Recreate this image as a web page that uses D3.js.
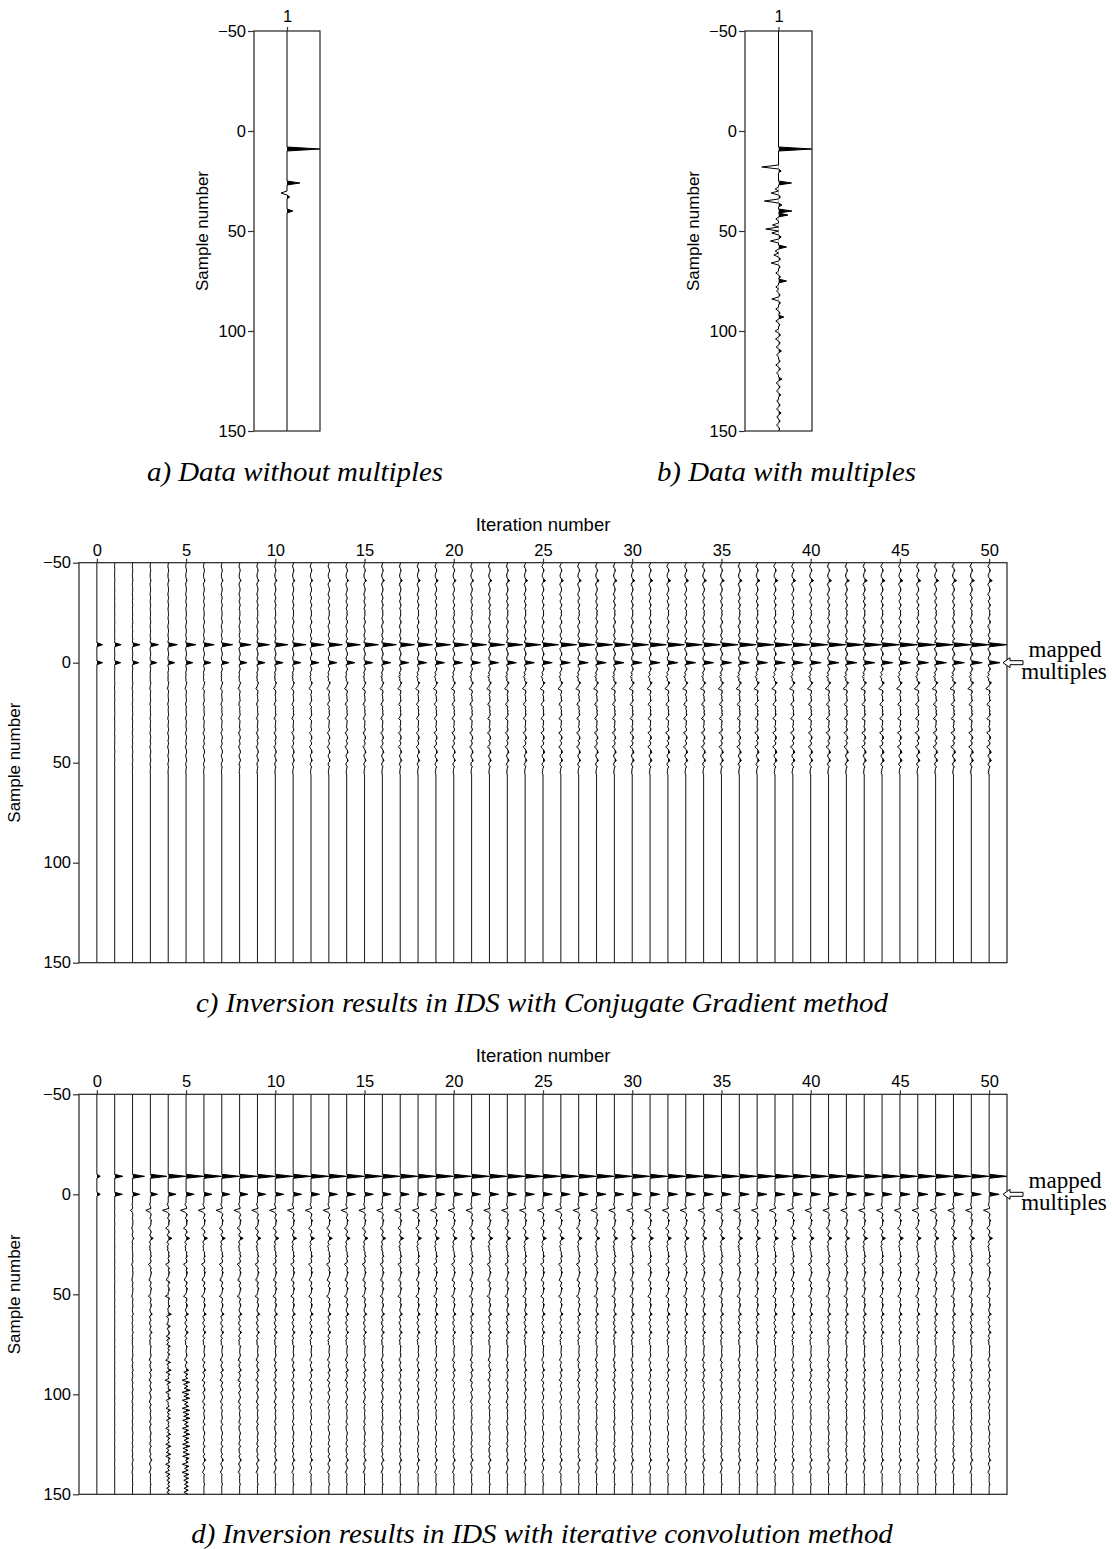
<!DOCTYPE html>
<html>
<head>
<meta charset="utf-8">
<script src="https://cdn.jsdelivr.net/npm/d3@7/dist/d3.min.js"></script>
<style>
  body { margin: 0; background: #fff; }
  svg { display: block; }
  .tick text { font-family: "Liberation Sans", Arial, sans-serif; font-size: 16.5px; fill: #000; }
  .tick line { stroke: #333; stroke-width: 1.2; }
  .lab { font-family: "Liberation Sans", Arial, sans-serif; font-size: 17px; fill: #000; }
  .lab.top { font-size: 18.5px; }
  .cap { font-family: "Liberation Serif", "Times New Roman", serif; font-style: italic; font-size: 27px; fill: #000; }
  .note { font-family: "Liberation Serif", "Times New Roman", serif; font-size: 23px; fill: #000; }
</style>
</head>
<body>
<svg id="fig" width="1112" height="1549"></svg>
<script>
// ---------------------------------------------------------------
// Axes
// ---------------------------------------------------------------
const sampleAxis = d3.range(-50, 151);          // time samples -50 .. 150
const depthTicks = [-50, 0, 50, 100, 150];
const iterations = d3.range(0, 51);              // CG / convolution iterations 0 .. 50
const iterationTicks = [0, 5, 10, 15, 20, 25, 30, 35, 40, 45, 50];

// ---------------------------------------------------------------
// a) primaries only: reflection spikes (sample, amplitude)
// ---------------------------------------------------------------
const cleanTimes = [9, 26, 31, 33, 40];
const cleanAmps  = [1.00, 0.39, -0.18, 0.08, 0.18];

// ---------------------------------------------------------------
// b) primaries plus multiples
// ---------------------------------------------------------------
const multTimes = [9, 18, 20, 26, 29, 31, 33, 35, 37, 40, 42, 44, 47, 49, 51, 53, 55, 58, 60, 62,
                   64, 66, 68, 71, 73, 75, 78, 80, 82, 84, 86, 89, 91, 93, 95, 97, 100, 102, 104, 106,
                   108, 110, 112, 115, 117, 119, 121, 124, 126, 128, 130, 132, 135, 137, 139, 141, 143, 145, 147, 149];
const multAmps  = [1.00, -0.50, 0.08, 0.39, -0.10, -0.22, 0.06, -0.42, 0.10, 0.40, 0.28, -0.08, -0.18, -0.38, -0.20, 0.08, -0.24, 0.24, -0.10, -0.14,
                   0.06, -0.22, 0.05, -0.08, 0.06, 0.24, -0.08, -0.06, 0.05, -0.20, 0.06, -0.08, 0.05, 0.16, -0.08, 0.04, -0.10, 0.06, -0.09, 0.05,
                   -0.07, 0.09, -0.06, 0.05, -0.08, 0.06, -0.06, 0.10, -0.07, 0.05, -0.06, 0.07, -0.05, 0.05, -0.06, 0.08, -0.05, 0.05, -0.06, 0.04];

// ---------------------------------------------------------------
// c/d) inversion in the IDS domain: primary at -9, mapped multiple at 0
// ---------------------------------------------------------------
const idsPrimaryTime = -9;
const idsMultipleTime = 0;

// small background wiggle shared by the inverted traces (hundredths, one per sample)
const fineNoise = [
   2,-1,-3, 1, 3, 0,-2,-2, 1, 3, -1,-3, 0, 2, 2,-1,-3, 1, 2,-2,
  -1, 3, 1,-2,-3, 1, 2, 0,-2, 2,  3,-1,-3, 0, 2, 1,-2,-1, 3,-1,
  -2, 1, 2,-3,-1, 2, 3,-1,-2, 0,  2,-2,-1, 3, 1,-3, 0, 2,-1,-2,
   3, 1,-2,-3, 2, 2,-1,-2, 1, 3, -2,-1, 2, 0,-3, 1, 3,-1,-2, 2,
   1,-3,-1, 2, 2,-2,-1, 3, 0,-2,  2, 1,-3,-1, 3, 1,-2,-2, 2, 1,
  -1,-3, 2, 2,-1,-2, 3, 0,-2, 1,  2,-3,-1, 2, 1,-2, 3,-1,-2, 2,
   0,-3, 2, 1,-1,-2, 3, 1,-3, 0,  2, 2,-2,-1, 3,-1,-2, 1, 2,-3,
   1, 2,-1,-2, 3, 0,-2, 2, 1,-3, -1, 2, 2,-2,-1, 3,-1,-2, 2, 0,
  -3, 1, 2,-1,-2, 3, 1,-2,-1, 2,  2,-3, 0, 2,-1,-2, 3, 1,-2,-1,
   2,-2, 1, 3,-1,-3, 1, 2,-1,-2,  1
];

// c) conjugate gradient
const cgPrimaryAmp  = [0.32, 0.36, 0.41, 0.45, 0.50, 0.54, 0.57, 0.60, 0.63, 0.66, 0.69, 0.71, 0.72, 0.74, 0.75, 0.76, 0.77,
                       0.78, 0.79, 0.80, 0.81, 0.82, 0.83, 0.84, 0.85, 0.85, 0.86, 0.87, 0.87, 0.88, 0.89, 0.89, 0.90, 0.90,
                       0.91, 0.91, 0.92, 0.92, 0.93, 0.93, 0.93, 0.94, 0.94, 0.95, 0.95, 0.96, 0.96, 0.97, 0.97, 0.98, 0.98];
const cgMultipleAmp = [0.32, 0.33, 0.34, 0.35, 0.35, 0.36, 0.37, 0.38, 0.39, 0.40, 0.41, 0.41, 0.42, 0.42, 0.43, 0.43, 0.44,
                       0.44, 0.45, 0.45, 0.46, 0.46, 0.47, 0.47, 0.48, 0.48, 0.49, 0.49, 0.50, 0.50, 0.50, 0.51, 0.51, 0.51,
                       0.52, 0.52, 0.52, 0.53, 0.53, 0.53, 0.54, 0.54, 0.54, 0.55, 0.55, 0.55, 0.55, 0.56, 0.56, 0.56, 0.56];
const cgResidualScale = [0.00, 0.05, 0.10, 0.15, 0.20, 0.25, 0.30, 0.35, 0.40, 0.44, 0.48, 0.52, 0.55, 0.58, 0.61, 0.64, 0.67,
                         0.69, 0.71, 0.73, 0.75, 0.77, 0.79, 0.80, 0.82, 0.83, 0.84, 0.85, 0.86, 0.87, 0.88, 0.89, 0.90, 0.91,
                         0.92, 0.93, 0.93, 0.94, 0.94, 0.95, 0.95, 0.96, 0.96, 0.97, 0.97, 0.98, 0.98, 0.99, 0.99, 1.00, 1.00];
const cgNoiseScale = [0.0, 0.2, 0.4, 0.6, 0.8, 0.9, 1.0, 1.1, 1.2, 1.3, 1.4, 1.4, 1.5, 1.5, 1.6, 1.6, 1.7,
                      1.7, 1.7, 1.8, 1.8, 1.8, 1.9, 1.9, 1.9, 2.0, 2.0, 2.0, 2.0, 2.1, 2.1, 2.1, 2.1, 2.2,
                      2.2, 2.2, 2.2, 2.2, 2.3, 2.3, 2.3, 2.3, 2.3, 2.4, 2.4, 2.4, 2.4, 2.4, 2.5, 2.5, 2.5];
const cgResidualTimes = [-41, -26, 7, 10, 13, 17, 21, 24, 28, 31, 35, 38, 42, 45, 49, 53];
const cgResidualAmps  = [0.10, 0.12, -0.16, 0.06, -0.12, 0.08, -0.10, 0.12, -0.08, 0.10, -0.09, 0.08, -0.07, 0.09, 0.10, -0.06];
const cgNoiseWindow = [-50, 55];

// d) iterative convolution
const icPrimaryAmp  = [0.19, 0.45, 0.67, 0.92, 1.00, 1.00, 1.00, 1.00, 1.00, 1.00, 1.00, 1.00, 1.00, 1.00, 1.00, 1.00, 1.00,
                       1.00, 1.00, 1.00, 1.00, 1.00, 1.00, 1.00, 1.00, 1.00, 1.00, 1.00, 1.00, 1.00, 1.00, 1.00, 1.00, 1.00,
                       1.00, 1.00, 1.00, 1.00, 1.00, 1.00, 1.00, 1.00, 1.00, 1.00, 1.00, 1.00, 1.00, 1.00, 1.00, 1.00, 1.00];
const icMultipleAmp = [0.19, 0.43, 0.40, 0.40, 0.44, 0.45, 0.45, 0.46, 0.46, 0.47, 0.47, 0.48, 0.48, 0.48, 0.49, 0.49, 0.49,
                       0.50, 0.50, 0.50, 0.51, 0.51, 0.51, 0.52, 0.52, 0.52, 0.52, 0.53, 0.53, 0.53, 0.53, 0.54, 0.54, 0.54,
                       0.54, 0.54, 0.55, 0.55, 0.55, 0.55, 0.55, 0.55, 0.56, 0.56, 0.56, 0.56, 0.56, 0.56, 0.56, 0.56, 0.56];
const icResidualScale = [0.00, 0.00, 0.35, 0.80, 1.00, 1.00, 1.00, 1.00, 1.00, 1.00, 1.00, 1.00, 1.00, 1.00, 1.00, 1.00, 1.00,
                         1.00, 1.00, 1.00, 1.00, 1.00, 1.00, 1.00, 1.00, 1.00, 1.00, 1.00, 1.00, 1.00, 1.00, 1.00, 1.00, 1.00,
                         1.00, 1.00, 1.00, 1.00, 1.00, 1.00, 1.00, 1.00, 1.00, 1.00, 1.00, 1.00, 1.00, 1.00, 1.00, 1.00, 1.00];
const icNoiseScale = [0.0, 0.2, 0.8, 1.6, 2.2, 2.2, 2.0, 1.9, 1.9, 1.8, 1.8, 1.8, 1.7, 1.7, 1.7, 1.7, 1.7,
                      1.6, 1.6, 1.6, 1.6, 1.6, 1.6, 1.6, 1.6, 1.6, 1.6, 1.6, 1.6, 1.6, 1.6, 1.6, 1.6, 1.6,
                      1.6, 1.6, 1.6, 1.6, 1.6, 1.6, 1.6, 1.6, 1.6, 1.6, 1.6, 1.6, 1.6, 1.6, 1.6, 1.6, 1.6];
const icResidualTimes = [8, 13, 17, 22, 26, 31, 35, 39, 43, 47, 51, 55, 60, 64, 69, 73, 78, 83, 88, 93, 98, 104, 110, 116, 121, 127, 133, 139, 145];
const icResidualAmps  = [-0.30, 0.14, -0.10, 0.16, -0.12, 0.13, -0.10, 0.12, -0.08, 0.12, -0.08, 0.10, 0.09, -0.08, 0.08, -0.07,
                         0.07, -0.06, 0.06, -0.06, 0.05, -0.05, 0.05, -0.05, 0.04, -0.04, 0.04, -0.04, 0.04];
const icNoiseWindow = [5, 150];
// high-frequency ringing on the early, unstable iterations (hundredths)
const icRingIteration = [4, 5];
const icRingStart = [44, 88];
const icRing = [
  [3,-2,3,-3,2,-3,3,-2,4,-3,3,-4,3,-3,4,-3,4,-4,3,-4,4,-4,5,-4,4,-5,4,-5,5,-4,5,-5,5,-5,6,-5,5,-6,5,-6,
   6,-5,6,-6,6,-6,7,-6,6,-7,6,-7,7,-6,7,-7,7,-7,8,-7,7,-8,7,-8,8,-7,8,-8,8,-8,9,-8,8,-9,8,-9,9,-8,9,-9,
   9,-9,8,-9,9,-8,9,-9,8,-9,9,-8,8,-9,9,-8,8,-9,8,-8,9,-8,8,-9,8,-8,9],
  [4,-6,8,-9,11,-12,13,-14,15,-15,16,-16,17,-17,16,-17,17,-16,17,-17,16,-17,17,-16,17,-17,16,-16,17,-16,
   16,-17,16,-16,15,-16,16,-15,15,-16,15,-15,14,-15,15,-14,14,-15,14,-13,14,-14,13,-13,14,-13,12,-13,13,-12,12,-12,11]
];

// ---------------------------------------------------------------
// trace construction
// ---------------------------------------------------------------
const s0 = sampleAxis[0];
function emptyTrace() { return sampleAxis.map(() => 0); }
function addSpikes(v, times, amps, scale) {
  times.forEach((t, i) => { const k = t - s0; if (k >= 0 && k < v.length) v[k] += amps[i] * scale; });
  return v;
}
function addSeries(v, start, vals, scale, win) {
  vals.forEach((a, i) => {
    const s = start + i, k = s - s0;
    if (win && (s < win[0] || s > win[1])) return;
    if (k >= 0 && k < v.length) v[k] += a * scale;
  });
  return v;
}

const svg = d3.select("#fig");
const defs = svg.append("defs");
let clipCount = 0;

function drawWiggle(g, values, x0, unit, y, box) {
  const pts = values.map((v, i) => [sampleAxis[i], v]);
  const id = "pos" + (clipCount++);
  defs.append("clipPath").attr("id", id).append("rect")
    .attr("x", x0).attr("y", box.y0).attr("width", Math.max(0, box.x1 - x0)).attr("height", box.y1 - box.y0);
  g.append("path").datum(pts)
    .attr("clip-path", `url(#${id})`)
    .attr("d", d3.area().y(d => y(d[0])).x0(x0).x1(d => x0 + d[1] * unit))
    .attr("fill", "#000");
  g.append("path").datum(pts)
    .attr("d", d3.line().x(d => x0 + d[1] * unit).y(d => y(d[0])))
    .attr("fill", "none").attr("stroke", "#000").attr("stroke-width", 1);
}

const fmt = d => d < 0 ? "\u2212" + Math.abs(d) : String(d);

function frame(g, x, y, xDomain, yDomain) {
  const b = { x0: x(xDomain[0]), x1: x(xDomain[1]), y0: y(yDomain[0]), y1: y(yDomain[1]) };
  const cid = "box" + (clipCount++);
  defs.append("clipPath").attr("id", cid).append("rect")
    .attr("x", b.x0).attr("y", b.y0).attr("width", b.x1 - b.x0).attr("height", b.y1 - b.y0);
  return { b, cid };
}

function yAxis(g, y, xLeft) {
  const ax = g.append("g").attr("transform", `translate(${xLeft},0)`)
    .call(d3.axisLeft(y).tickValues(depthTicks).tickSize(6).tickPadding(2).tickFormat(fmt));
  ax.select(".domain").remove();
}

function drawBox(g, b) {
  g.append("rect").attr("x", b.x0).attr("y", b.y0).attr("width", b.x1 - b.x0).attr("height", b.y1 - b.y0)
    .attr("fill", "none").attr("stroke", "#222").attr("stroke-width", 1.2);
}

// italic panel caption, set slightly wide
function caption(g, cx, y, text) {
  g.append("text").attr("class", "cap").attr("text-anchor", "middle")
    .attr("transform", `translate(${cx},${y}) scale(1.07,1)`).text(text);
}

// ---------------------------------------------------------------
// panels a and b: single traces
// ---------------------------------------------------------------
function singlePanel(left, right, times, amps, title) {
  const x = d3.scaleLinear().domain([0, 2]).range([left, right]);
  const y = d3.scaleLinear().domain([-50, 150]).range([31, 431]);
  const g = svg.append("g");
  const { b, cid } = frame(g, x, y, [0, 2], [-50, 150]);
  const tg = g.append("g").attr("clip-path", `url(#${cid})`);
  const trace = addSpikes(emptyTrace(), times, amps, 1);
  drawWiggle(tg, trace, x(1), x(2) - x(1), y, b);
  drawBox(g, b);
  yAxis(g, y, b.x0);
  const top = g.append("g").attr("transform", `translate(0,${b.y0})`)
    .call(d3.axisTop(x).tickValues([1]).tickFormat(d3.format("d")).tickSize(4).tickPadding(5));
  top.select(".domain").remove();
  g.append("text").attr("class", "lab").attr("text-anchor", "middle")
    .attr("transform", `translate(${b.x0 - 46},${(b.y0 + b.y1) / 2}) rotate(-90)`)
    .text("Sample number");
  caption(g, x(1) + 8, 481, title);
}

singlePanel(254, 320, cleanTimes, cleanAmps, "a) Data without multiples");
singlePanel(745, 812, multTimes, multAmps, "b) Data with multiples");

// ---------------------------------------------------------------
// panels c and d: one trace per iteration
// ---------------------------------------------------------------
function iterPanel(top, P, title) {
  const x = d3.scaleLinear().domain([-1, 51]).range([79, 1007]);
  const y = d3.scaleLinear().domain([-50, 150]).range([top, top + 400]);
  const g = svg.append("g");
  const { b, cid } = frame(g, x, y, [-1, 51], [-50, 150]);
  const tg = g.append("g").attr("clip-path", `url(#${cid})`);
  const unit = x(1) - x(0);
  iterations.forEach(it => {
    const v = emptyTrace();
    addSpikes(v, [idsPrimaryTime, idsMultipleTime], [P.primary[it], P.multiple[it]], 1);
    addSpikes(v, P.resTimes, P.resAmps, P.resScale[it]);
    addSeries(v, s0, fineNoise, 0.01 * P.noise[it], P.window);
    if (P.ringIter) {
      const r = P.ringIter.indexOf(it);
      if (r >= 0) addSeries(v, P.ringStart[r], P.ring[r], 0.01, null);
    }
    drawWiggle(tg, v, x(it), unit, y, b);
  });
  drawBox(g, b);
  yAxis(g, y, b.x0);
  const ax = g.append("g").attr("transform", `translate(0,${b.y0})`)
    .call(d3.axisTop(x).tickValues(iterationTicks).tickSize(4).tickPadding(3));
  ax.select(".domain").remove();
  g.append("text").attr("class", "lab top").attr("text-anchor", "middle")
    .attr("x", (b.x0 + b.x1) / 2).attr("y", b.y0 - 32).text("Iteration number");
  g.append("text").attr("class", "lab").attr("text-anchor", "middle")
    .attr("transform", `translate(${b.x0 - 59},${(b.y0 + b.y1) / 2}) rotate(-90)`)
    .text("Sample number");
  // pointer to the mapped multiples
  const ay = y(idsMultipleTime), ax0 = b.x1 - 4;
  g.append("path")
    .attr("d", `M${ax0},${ay} l7,-5 v3 h13 v4 h-13 v3 z`)
    .attr("fill", "#fff").attr("stroke", "#000").attr("stroke-width", 1);
  g.append("text").attr("class", "note").attr("text-anchor", "middle")
    .attr("x", 1065).attr("y", ay - 6).text("mapped");
  g.append("text").attr("class", "note").attr("text-anchor", "middle")
    .attr("x", 1064).attr("y", ay + 16).text("multiples");
  caption(g, 542, b.y1 + 49, title);
}

iterPanel(562.7, {
  primary: cgPrimaryAmp, multiple: cgMultipleAmp, resScale: cgResidualScale, noise: cgNoiseScale,
  resTimes: cgResidualTimes, resAmps: cgResidualAmps, window: cgNoiseWindow
}, "c) Inversion results in IDS with Conjugate Gradient method");

iterPanel(1094.3, {
  primary: icPrimaryAmp, multiple: icMultipleAmp, resScale: icResidualScale, noise: icNoiseScale,
  resTimes: icResidualTimes, resAmps: icResidualAmps, window: icNoiseWindow,
  ringIter: icRingIteration, ringStart: icRingStart, ring: icRing
}, "d) Inversion results in IDS with iterative convolution method");
</script>
</body>
</html>
